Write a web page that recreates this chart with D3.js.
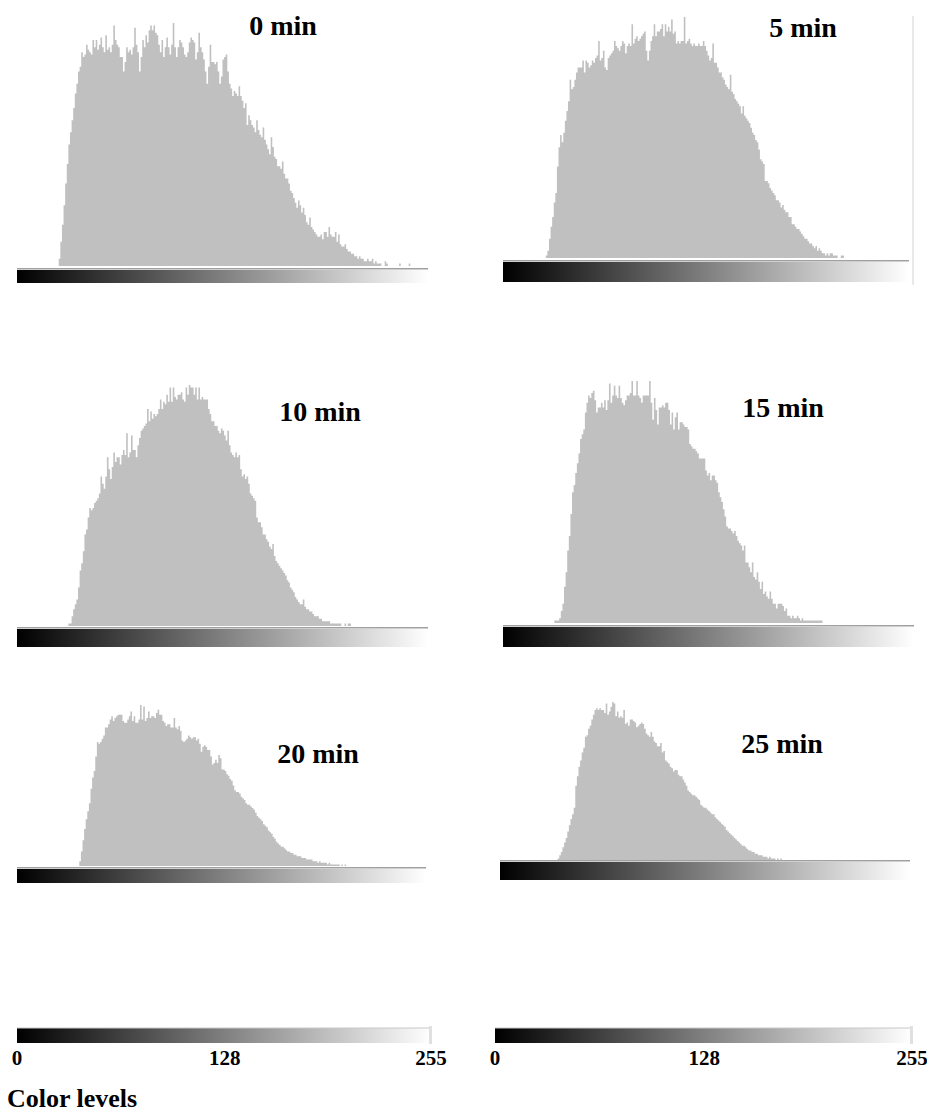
<!DOCTYPE html>
<html>
<head>
<meta charset="utf-8">
<script src="https://cdn.jsdelivr.net/npm/d3@7"></script>
<style>
  body { margin: 0; background: #fff; }
  svg { display: block; }
  text { font-family: "Liberation Serif", "Times New Roman", serif; font-weight: bold; fill: #000; }
</style>
</head>
<body>
<svg id="chart"></svg>
<script>
// panel titles (minutes of exposure)
var titles = ["0 min", "5 min", "10 min", "15 min", "20 min", "25 min"];

// first grey level present in each histogram
var firstLevel = [26, 27, 32, 32, 39, 36];

// relative pixel counts per grey level (tallest bin = 100)
var hist0 = [3,10,17,25,34,42,50,55,60,65,71,75,80,82,
  88,86,87,91,89,88,87,93,90,93,89,91,94,90,88,95,89,90,88,91,
  99,93,91,90,86,86,80,84,90,88,89,87,90,98,91,88,80,86,93,90,
  95,92,97,99,97,99,96,95,91,88,93,86,90,94,90,87,91,100,90,86,
  90,93,92,90,87,86,88,92,94,93,92,85,88,96,90,88,85,80,75,82,
  91,84,84,83,84,80,75,78,85,86,87,80,75,73,70,72,71,70,74,70,
  68,65,67,58,62,60,58,57,55,60,56,54,53,57,52,50,48,46,53,49,
  45,44,41,41,40,43,38,36,36,34,31,30,28,26,24,27,25,22,24,21,
  18,17,20,16,15,14,13,12,12,13,11,14,14,12,16,13,12,12,14,10,
  13,9,8,8,9,7,6,6,5,5,4,4,3,4,3,3,2,2,3,2,
  2,3,1,2,1,1,1,0,0,2,1,0,0,0,0,0,0,0,1,0,0,0,0,0,1];

var hist5 = [1,3,8,13,17,23,27,38,46,51,48,52,57,
  61,65,74,70,71,74,77,79,79,79,82,77,82,81,79,80,82,81,83,84,
  90,82,83,86,79,78,83,84,85,86,90,88,87,86,88,90,89,85,88,89,
  88,97,89,91,92,90,91,92,93,94,86,82,86,90,92,97,92,94,94,95,
  97,92,97,94,96,94,99,93,94,89,90,89,90,90,100,89,90,91,89,88,
  89,88,88,89,88,88,90,88,86,84,82,83,89,81,81,79,77,77,75,74,
  72,71,70,76,69,68,66,65,64,63,60,63,59,58,57,56,54,52,51,49,
  48,45,41,40,39,32,32,31,29,28,27,26,24,24,23,21,22,20,19,19,
  17,17,14,14,13,12,12,11,10,9,8,8,7,6,6,5,4,5,3,4,
  3,2,2,1,2,1,2,2,1,1,1,0,0,1,1];

var hist10 = [1,1,4,7,9,11,16,23,
  26,31,38,40,45,49,48,49,51,52,53,55,62,59,57,62,70,65,61,66,
  72,68,70,70,67,71,73,71,80,70,72,79,73,73,70,75,78,81,82,83,
  84,90,85,89,86,88,87,88,90,94,90,93,92,96,93,99,93,99,95,94,
  96,96,97,94,93,99,96,100,99,99,96,99,94,99,94,95,94,94,94,90,
  88,85,85,83,83,81,80,82,81,79,77,81,75,72,71,70,72,70,71,65,
  62,63,61,62,59,55,54,53,52,45,43,43,41,38,38,36,35,33,32,34,
  29,27,26,25,24,23,22,21,19,18,16,15,14,12,11,10,9,9,11,8,
  7,7,6,6,5,4,4,4,3,3,2,2,2,2,2,1,1,1,1,1,
  1,1,0,0,1,0,1,1];

var hist15 = [1,1,1,2,5,8,15,21,
  30,36,45,54,57,62,66,70,76,78,80,87,91,94,93,95,96,92,87,89,
  89,91,89,92,88,92,99,91,94,98,94,93,98,93,91,90,92,94,94,95,
  100,94,94,100,94,93,91,94,94,94,94,100,91,84,93,88,82,89,89,90,
  89,91,91,88,82,87,80,85,87,80,83,83,82,81,81,80,74,73,72,72,
  71,70,68,68,68,68,63,61,62,59,61,61,59,58,54,52,50,47,44,40,
  39,39,38,37,38,36,34,33,32,30,32,25,25,23,21,25,19,18,21,17,
  14,17,12,13,11,10,13,10,8,8,6,8,8,8,7,5,6,3,3,2,
  3,2,2,3,2,1,2,1,1,1,1,1,1,1,1,1,1,1,1];

var hist20 = [3,9,16,23,
  29,34,39,48,55,59,68,77,76,77,79,81,86,86,88,91,93,
  90,92,93,94,94,94,90,89,89,91,93,96,90,93,89,89,91,100,91,99,
  90,92,96,92,93,93,92,95,97,94,94,90,89,87,88,88,86,86,92,86,
  85,87,84,78,77,78,79,81,80,79,80,80,78,79,76,71,74,75,74,72,
  72,68,63,64,66,64,69,67,60,60,59,57,56,54,53,50,47,46,46,45,
  43,42,41,39,38,38,37,36,35,33,31,30,29,28,26,25,24,22,21,20,
  18,17,15,14,13,12,12,11,10,9,9,8,8,7,7,6,6,6,5,5,
  5,4,4,4,4,3,3,3,2,3,2,2,2,2,1,2,1,1,1,1,
  1,1,0,1,0,1];

var hist25 = [1,3,5,8,
  11,14,18,22,26,29,33,47,53,59,63,68,71,78,79,83,85,89,92,95,
  96,95,96,95,95,93,99,92,94,97,100,99,91,94,90,91,90,95,86,87,
  85,89,89,88,87,84,85,86,87,86,83,80,79,78,81,78,75,74,72,72,
  74,68,69,63,62,61,59,58,56,57,57,54,53,53,51,49,47,44,43,42,
  41,41,40,39,38,35,34,33,33,32,31,30,29,29,27,26,25,24,23,22,
  21,19,18,17,16,15,14,13,12,11,10,9,9,8,7,6,6,5,5,4,
  4,3,3,3,2,2,2,1,2,1,1,1,0,1,0,1];

var histograms = [hist0, hist5, hist10, hist15, hist20, hist25];

// tick labels of the two colour-level scales
var scaleTicks = [0, 128, 255];

var svgWidth = 927, svgHeight = 1112;
var svg = d3.select('#chart')
    .attr('width', svgWidth)
    .attr('height', svgHeight);

var defs = svg.append('defs');
var grad = defs.append('linearGradient')
    .attr('id', 'greyRamp')
    .attr('x1', '0%').attr('x2', '100%').attr('y1', '0%').attr('y2', '0%');
grad.append('stop').attr('offset', '0%').attr('stop-color', '#000');
grad.append('stop').attr('offset', '100%').attr('stop-color', '#fff');

// where each little histogram sits on the page
var panels = [
    { x0: 17,  x1: 428, base: 266, top: 23,  barY: 270, barH: 13, tx: 283, ty: 35 },
    { x0: 503, x1: 909, base: 258, top: 17,  barY: 262, barH: 20, tx: 803, ty: 37 },
    { x0: 17,  x1: 428, base: 626, top: 385, barY: 629, barH: 18, tx: 320, ty: 421 },
    { x0: 503, x1: 914, base: 623, top: 381, barY: 627, barH: 20, tx: 783, ty: 417 },
    { x0: 17,  x1: 426, base: 866, top: 705, barY: 869, barH: 14, tx: 318, ty: 763 },
    { x0: 500, x1: 910, base: 860, top: 702, barY: 862, barH: 18, tx: 782, ty: 753 }
];

panels.forEach(function(p, k) {
    var g = svg.append('g');
    var x = d3.scaleLinear().domain([0, 256]).range([p.x0, p.x1]);
    var y = d3.scaleLinear().domain([0, 100]).range([p.base, p.top]);

    var pts = histograms[k].map(function(v, i) { return { level: firstLevel[k] + i, value: v }; });
    pts.push({ level: firstLevel[k] + histograms[k].length, value: histograms[k][histograms[k].length - 1] });

    var area = d3.area()
        .curve(d3.curveStepAfter)
        .x(function(d) { return x(d.level); })
        .y0(y(0))
        .y1(function(d) { return y(d.value); });

    g.append('path')
        .datum(pts)
        .attr('d', area)
        .attr('fill', '#c0c0c0');

    // thin grey rule and the grey ramp under the histogram
    g.append('line')
        .attr('x1', x(0)).attr('x2', x(256))
        .attr('y1', p.barY - 1.2).attr('y2', p.barY - 1.2)
        .attr('stroke', '#a0a0a0')
        .attr('stroke-width', 1.4);
    g.append('rect')
        .attr('x', x(0)).attr('y', p.barY)
        .attr('width', x(256) - x(0)).attr('height', p.barH)
        .attr('fill', 'url(#greyRamp)');

    g.append('text')
        .attr('x', p.tx).attr('y', p.ty)
        .attr('text-anchor', 'middle')
        .style('font-size', '28px')
        .text(titles[k]);
});

// faint frame line at the right of the 5 min panel
svg.append('line')
    .attr('x1', 913).attr('x2', 913).attr('y1', 16).attr('y2', 285)
    .attr('stroke', '#e2e2e2').attr('stroke-width', 1.5);

// the two reference scales at the bottom
[{ x0: 17, x1: 431 }, { x0: 495, x1: 912 }].forEach(function(s) {
    var x = d3.scaleLinear().domain([0, 255]).range([s.x0, s.x1]);
    svg.append('rect')
        .attr('x', s.x0).attr('y', 1028)
        .attr('width', s.x1 - s.x0).attr('height', 15)
        .attr('fill', 'url(#greyRamp)');
    svg.append('line')
        .attr('x1', s.x0).attr('x2', s.x1).attr('y1', 1028).attr('y2', 1028)
        .attr('stroke', '#c8c8c8').attr('stroke-width', 1);
    svg.append('rect')
        .attr('x', s.x1 - 2).attr('y', 1026)
        .attr('width', 3).attr('height', 18)
        .attr('fill', '#e0e0e0');
    svg.selectAll(null)
        .data(scaleTicks)
        .enter().append('text')
        .attr('x', function(d) { return x(d); })
        .attr('y', 1065)
        .attr('text-anchor', 'middle')
        .style('font-size', '21px')
        .text(function(d) { return d; });
});

svg.append('text')
    .attr('x', 7).attr('y', 1107)
    .style('font-size', '26px')
    .text('Color levels');
</script>
</body>
</html>
